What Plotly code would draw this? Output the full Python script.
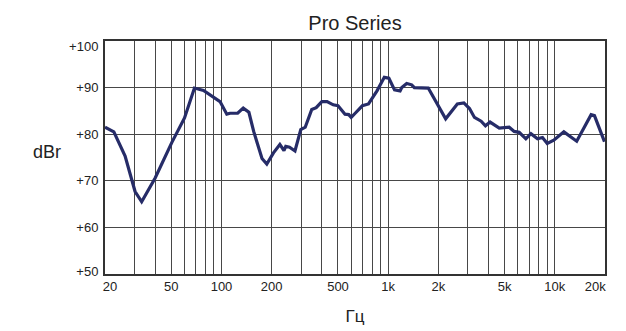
import plotly.graph_objects as go
import math

# Data
freq_hz = [20, 22.6, 26.4, 30.3, 33.2, 40, 50.3, 60, 68.8, 78,
           98, 107.6, 112.6, 125, 135, 146, 156, 175, 187, 205,
           224, 237, 243, 256, 276, 299, 318, 348, 370, 400,
           430, 468, 500, 551, 580, 600, 634, 700, 762, 857,
           948, 1010, 1092, 1179, 1207, 1292, 1384, 1436, 1740, 2213,
           2600, 2847, 3076, 3295, 3612, 3835, 4087, 4432, 4640, 5320,
           5705, 6112, 6700, 7187, 7870, 8432, 9003, 9856, 11330, 13530,
           16510, 17290, 19850]
level_dbr = [81.5, 80.5, 75.3, 67.7, 65.5, 70.6, 78.2, 83.5, 89.9, 89.4,
             87.0, 84.3, 84.5, 84.5, 85.6, 84.7, 80.6, 74.8, 73.6, 76.0,
             77.8, 76.5, 77.4, 77.2, 76.4, 81.0, 81.5, 85.3, 85.7, 87.0,
             87.0, 86.3, 86.1, 84.3, 84.2, 83.6, 84.5, 86.1, 86.5, 89.3,
             92.2, 92.0, 89.5, 89.3, 90.0, 90.9, 90.6, 90.0, 89.9, 83.3,
             86.5, 86.7, 85.5, 83.6, 82.8, 81.8, 82.6, 81.7, 81.3, 81.5,
             80.6, 80.4, 79.0, 80.1, 79.0, 79.3, 78.0, 78.7, 80.5, 78.5,
             84.2, 84.0, 78.4]

grid_freqs = [30, 40, 50, 60, 70, 80, 90, 100,
              200, 300, 400, 500, 600, 700, 800, 900, 1000,
              2000, 3000, 4000, 5000, 6000, 7000, 8000, 9000, 10000]
label_positions = [21.4, 50, 100, 200, 500, 1000, 2000, 5000, 10000, 17500]
label_texts = ["20", "50", "100", "200", "500", "1k", "2k", "5k", "10k", "20k"]
y_grid = [50, 60, 70, 80, 90, 100]
y_label_positions = [50.5, 60, 70, 80, 90, 98.9]
y_tick_texts = ["+50", "+60", "+70", "+80", "+90", "+100"]

FONT = "Liberation Sans, Arial, sans-serif"
xr = [math.log10(20), math.log10(20000)]
yr = [50, 100]

# page body has an 8px margin, so the figure is sized to fit the window
W, H = 618, 323
ML, MR, MT, MB = 97, 21, 33, 57

fig = go.Figure()
fig.add_trace(go.Scatter(x=freq_hz, y=level_dbr, mode="lines",
                         line=dict(color="#262c68", width=3.2),
                         hoverinfo="skip", showlegend=False))
# invisible trace on the label axes
fig.add_trace(go.Scatter(x=[20, 20000], y=[50, 50], xaxis="x2", yaxis="y2",
                         mode="lines", line=dict(width=0), opacity=0,
                         hoverinfo="skip", showlegend=False))

pw, ph = W - ML - MR, H - MT - MB

fig.update_layout(
    width=W, height=H,
    margin=dict(l=ML, r=MR, t=MT, b=MB),
    paper_bgcolor="white", plot_bgcolor="white",
    font=dict(family=FONT, color="#222222", size=13),
    title=dict(text="Pro Series", x=0.5, xref="paper", xanchor="center",
               y=1 - 14.5 / H, yanchor="middle", yref="container",
               automargin=False,
               font=dict(size=20, family=FONT, color="#222222")),
    xaxis=dict(type="log", range=xr, tickvals=grid_freqs, showticklabels=False,
               showgrid=True, gridcolor="#484848", gridwidth=1,
               showline=True, linecolor="#333333", linewidth=1.5, mirror=True,
               zeroline=False, ticks="", automargin=False),
    xaxis2=dict(type="log", range=xr, overlaying="x", anchor="y", side="bottom",
                tickvals=label_positions, ticktext=label_texts,
                showgrid=False, showline=False, zeroline=False, ticks="",
                ticklabelstandoff=3, automargin=False,
                tickfont=dict(size=13, family=FONT, color="#222222"),
                title=dict(text="Гц", standoff=17,
                           font=dict(size=17, family=FONT, color="#222222"))),
    yaxis=dict(range=yr, tickvals=y_grid, showticklabels=False,
               showgrid=True, gridcolor="#484848", gridwidth=1,
               showline=True, linecolor="#333333", linewidth=1.5, mirror=True,
               zeroline=False, ticks="", automargin=False),
    yaxis2=dict(range=yr, overlaying="y", anchor="x", side="left",
                tickvals=y_label_positions, ticktext=y_tick_texts,
                showgrid=False, showline=False, zeroline=False,
                ticks="outside", ticklen=3, tickcolor="rgba(0,0,0,0)",
                automargin=False,
                tickfont=dict(size=13, family=FONT, color="#222222")),
    annotations=[dict(text="dBr", x=(39 - ML) / pw, y=(H - MB - 144) / ph,
                      xref="paper", yref="paper", xanchor="center", yanchor="middle",
                      showarrow=False,
                      font=dict(size=18, family=FONT, color="#222222"))],
)

fig.write_html("out.html")
